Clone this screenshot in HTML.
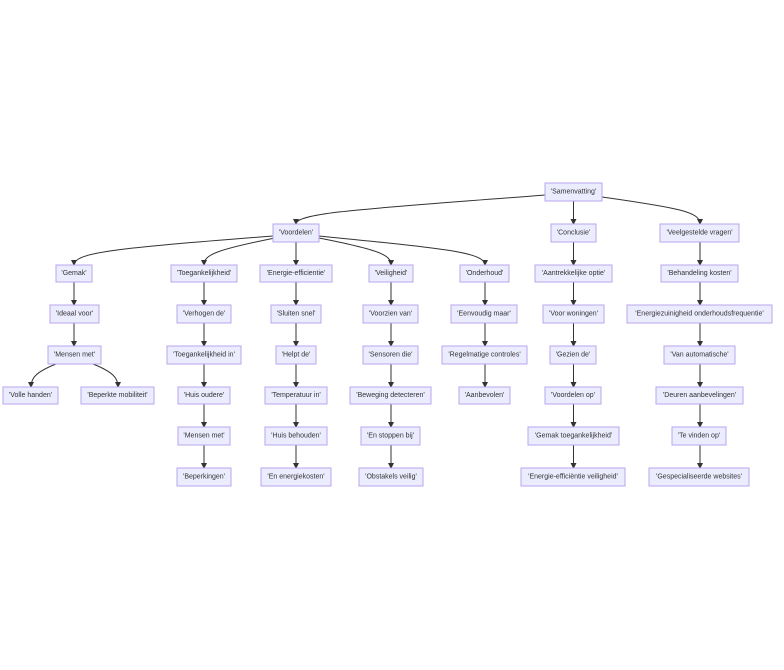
<!DOCTYPE html>
<html><head><meta charset="utf-8"><style>
html,body{margin:0;padding:0;background:#fff;}
svg{display:block;}
rect{fill:#ECECFF;stroke:#b7a6ee;stroke-width:1;}
text{font-family:"Liberation Sans",sans-serif;font-size:7px;fill:#333;text-anchor:middle;dominant-baseline:central;}
path,line{stroke:#333;stroke-width:1;fill:none;}
</style></head><body>
<svg width="784" height="670" viewBox="0 0 784 670">
<defs><marker id="a" markerWidth="6" markerHeight="6" refX="5" refY="3" orient="auto" markerUnits="userSpaceOnUse"><path d="M0,0 L6,3 L0,6 z" style="fill:#333;stroke:none"/></marker></defs>
<g marker-end="url(#a)">
<path d="M545,195 C380,208 296,212 296,224"/>
<line x1="573.5" y1="201" x2="573.5" y2="224"/>
<path d="M602,197 C680,208 700,212 700,224"/>
<path d="M273,236 C120,248 74,252 74,265"/>
<path d="M275,238 C215,250 204,255 204,265"/>
<line x1="296" y1="242" x2="296" y2="265"/>
<path d="M319,238 C380,250 391,255 391,265"/>
<path d="M319,236 C440,248 485,252 485,265"/>
<line x1="573.5" y1="242" x2="573.5" y2="265"/>
<line x1="700" y1="242" x2="700" y2="265"/>
<!-- row3->4 -->
<line x1="74" y1="282" x2="74" y2="305"/>
<line x1="204" y1="282" x2="204" y2="305"/>
<line x1="296" y1="282" x2="296" y2="305"/>
<line x1="391" y1="282" x2="391" y2="305"/>
<line x1="485" y1="282" x2="485" y2="305"/>
<line x1="573.5" y1="282" x2="573.5" y2="305"/>
<line x1="700" y1="282" x2="700" y2="305"/>
<!-- row4->5 -->
<line x1="74" y1="323" x2="74" y2="346"/>
<line x1="204" y1="323" x2="204" y2="346"/>
<line x1="296" y1="323" x2="296" y2="346"/>
<line x1="391" y1="323" x2="391" y2="346"/>
<line x1="485" y1="323" x2="485" y2="346"/>
<line x1="573.5" y1="323" x2="573.5" y2="346"/>
<line x1="700" y1="323" x2="700" y2="346"/>
<!-- row5->6 -->
<path d="M56,364 C36,372 31,378 31,387"/>
<path d="M93,364 C113,372 118,378 118,387"/>
<line x1="204" y1="364" x2="204" y2="387"/>
<line x1="296" y1="364" x2="296" y2="387"/>
<line x1="391" y1="364" x2="391" y2="387"/>
<line x1="485" y1="364" x2="485" y2="387"/>
<line x1="573.5" y1="364" x2="573.5" y2="387"/>
<line x1="700" y1="364" x2="700" y2="387"/>
<!-- row6->7 -->
<line x1="204" y1="404" x2="204" y2="427"/>
<line x1="296" y1="404" x2="296" y2="427"/>
<line x1="391" y1="404" x2="391" y2="427"/>
<line x1="573.5" y1="404" x2="573.5" y2="427"/>
<line x1="700" y1="404" x2="700" y2="427"/>
<!-- row7->8 -->
<line x1="204" y1="445" x2="204" y2="468"/>
<line x1="296" y1="445" x2="296" y2="468"/>
<line x1="391" y1="445" x2="391" y2="468"/>
<line x1="573.5" y1="445" x2="573.5" y2="468"/>
<line x1="700" y1="445" x2="700" y2="468"/>
</g>

<rect x="545" y="183" width="57" height="18"/><text x="573.5" y="192">'Samenvatting'</text>

<rect x="273" y="224" width="46" height="18"/><text x="296" y="233">'Voordelen'</text>
<rect x="551" y="224" width="45" height="18"/><text x="573.5" y="233">'Conclusie'</text>
<rect x="660" y="224" width="79" height="18"/><text x="699.5" y="233">'Veelgestelde vragen'</text>

<rect x="56" y="265" width="36" height="17"/><text x="74" y="273.5">'Gemak'</text>
<rect x="171" y="265" width="66" height="17"/><text x="204" y="273.5">'Toegankelijkheid'</text>
<rect x="260" y="265" width="72" height="17"/><text x="296" y="273.5">'Energie-efficientie'</text>
<rect x="369" y="265" width="44" height="17"/><text x="391" y="273.5">'Veiligheid'</text>
<rect x="460" y="265" width="49" height="17"/><text x="484.5" y="273.5">'Onderhoud'</text>
<rect x="535" y="265" width="77" height="17"/><text x="573.5" y="273.5">'Aantrekkelijke optie'</text>
<rect x="661" y="265" width="77" height="17"/><text x="699.5" y="273.5">'Behandeling kosten'</text>

<rect x="50" y="305" width="49" height="18"/><text x="74.5" y="314">'Ideaal voor'</text>
<rect x="177" y="305" width="54" height="18"/><text x="204" y="314">'Verhogen de'</text>
<rect x="271" y="305" width="50" height="18"/><text x="296" y="314">'Sluiten snel'</text>
<rect x="363" y="305" width="55" height="18"/><text x="390.5" y="314">'Voorzien van'</text>
<rect x="451" y="305" width="66" height="18"/><text x="484" y="314">'Eenvoudig maar'</text>
<rect x="543" y="305" width="61" height="18"/><text x="573.5" y="314">'Voor woningen'</text>
<rect x="627" y="305" width="145" height="18"/><text x="699.5" y="314">'Energiezuinigheid onderhoudsfrequentie'</text>

<rect x="48" y="346" width="53" height="18"/><text x="74.5" y="355">'Mensen met'</text>
<rect x="167" y="346" width="74" height="18"/><text x="204" y="355">'Toegankelijkheid in'</text>
<rect x="276" y="346" width="40" height="18"/><text x="296" y="355">'Helpt de'</text>
<rect x="363" y="346" width="55" height="18"/><text x="390.5" y="355">'Sensoren die'</text>
<rect x="442" y="346" width="85" height="18"/><text x="484.5" y="355">'Regelmatige controles'</text>
<rect x="550" y="346" width="46" height="18"/><text x="573" y="355">'Gezien de'</text>
<rect x="664" y="346" width="71" height="18"/><text x="699.5" y="355">'Van automatische'</text>

<rect x="3" y="387" width="55" height="17"/><text x="30.5" y="395.5">'Volle handen'</text>
<rect x="81" y="387" width="73" height="17"/><text x="117.5" y="395.5">'Beperkte mobiliteit'</text>
<rect x="178" y="387" width="52" height="17"/><text x="204" y="395.5">'Huis oudere'</text>
<rect x="265" y="387" width="62" height="17"/><text x="296" y="395.5">'Temperatuur in'</text>
<rect x="350" y="387" width="81" height="17"/><text x="390.5" y="395.5">'Beweging detecteren'</text>
<rect x="459" y="387" width="51" height="17"/><text x="484.5" y="395.5">'Aanbevolen'</text>
<rect x="545" y="387" width="56" height="17"/><text x="573" y="395.5">'Voordelen op'</text>
<rect x="656" y="387" width="87" height="17"/><text x="699.5" y="395.5">'Deuren aanbevelingen'</text>

<rect x="178" y="427" width="52" height="18"/><text x="204" y="436">'Mensen met'</text>
<rect x="265" y="427" width="62" height="18"/><text x="296" y="436">'Huis behouden'</text>
<rect x="361" y="427" width="59" height="18"/><text x="390.5" y="436">'En stoppen bij'</text>
<rect x="528" y="427" width="91" height="18"/><text x="573.5" y="436">'Gemak toegankelijkheid'</text>
<rect x="672" y="427" width="54" height="18"/><text x="699" y="436">'Te vinden op'</text>

<rect x="177" y="468" width="54" height="18"/><text x="204" y="477">'Beperkingen'</text>
<rect x="261" y="468" width="70" height="18"/><text x="296" y="477">'En energiekosten'</text>
<rect x="359" y="468" width="64" height="18"/><text x="391" y="477">'Obstakels veilig'</text>
<rect x="521" y="468" width="104" height="18"/><text x="573" y="477">'Energie-efficiëntie veiligheid'</text>
<rect x="649" y="468" width="100" height="18"/><text x="699" y="477">'Gespecialiseerde websites'</text>
</svg>
</body></html>
